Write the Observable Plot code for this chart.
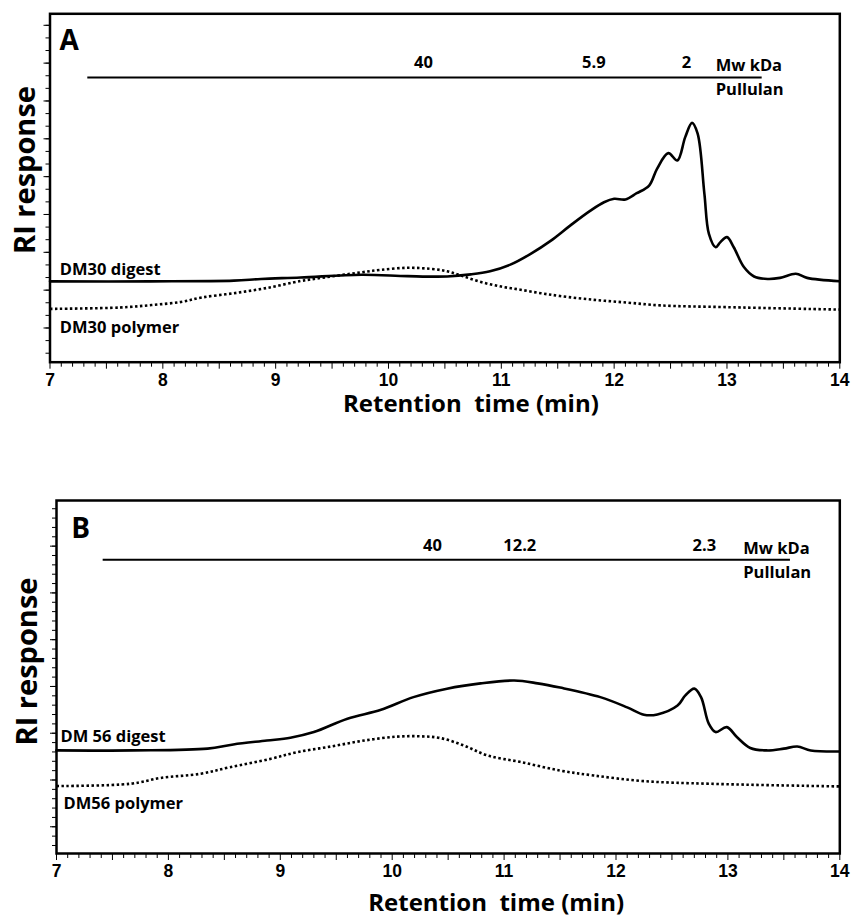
<!DOCTYPE html>
<html><head><meta charset="utf-8">
<script src="https://cdn.jsdelivr.net/npm/d3@7"></script>
<script src="https://cdn.jsdelivr.net/npm/@observablehq/plot@0.6"></script>
<style>
body{margin:0;background:#fff;}
#chart svg{display:block;}
</style></head><body><div id="chart"></div>
<script>
// Retention time (min), RI response (arbitrary units, 0 = bottom of frame, 100 = top)
const digestA = [[7.00,23.2],[7.89,23.2],[8.63,23.4],[8.87,23.9],[9.22,24.3],[9.76,25.1],[10.17,24.7],[10.52,24.6],[10.73,25.2],[10.90,26.1],[11.08,28.0],[11.26,31.1],[11.44,34.9],[11.61,39.2],[11.79,43.5],[11.91,45.9],[12.00,46.9],[12.10,46.7],[12.20,48.5],[12.31,50.7],[12.38,55.5],[12.48,60.0],[12.56,57.9],[12.63,64.6],[12.69,68.7],[12.74,65.6],[12.80,48.3],[12.84,36.8],[12.90,33.0],[12.94,34.4],[13.00,35.9],[13.06,33.0],[13.15,27.3],[13.24,24.6],[13.36,23.9],[13.47,24.2],[13.61,25.4],[13.71,24.2],[14.00,23.25]];
const polymerA = [[7.00,15.3],[7.62,15.7],[7.90,16.4],[8.16,17.3],[8.35,18.6],[8.63,19.8],[8.93,21.35],[9.22,23.3],[9.34,23.9],[9.76,25.8],[9.93,26.5],[10.17,27.1],[10.37,26.8],[10.52,26.1],[10.65,24.8],[10.82,23.0],[11.00,21.7],[11.17,20.8],[11.35,19.8],[11.52,19.0],[11.82,17.9],[12.12,17.1],[12.41,16.3],[13.00,15.8],[14.00,15.1]];
const digestB = [[7.00,29.2],[7.69,29.2],[8.35,29.7],[8.58,30.9],[8.88,32.0],[9.09,32.8],[9.30,34.4],[9.60,38.2],[9.90,40.7],[10.19,44.3],[10.49,46.7],[10.79,48.2],[11.09,49.0],[11.30,48.2],[11.50,47.0],[11.86,44.3],[12.10,41.4],[12.25,39.3],[12.37,39.4],[12.55,41.9],[12.62,44.8],[12.70,46.7],[12.76,44.3],[12.83,36.7],[12.89,34.4],[12.99,35.8],[13.08,33.0],[13.20,29.9],[13.35,29.2],[13.50,29.7],[13.62,30.3],[13.74,29.2],[14.00,28.9]];
const polymerB = [[7.00,19.1],[7.66,19.75],[7.93,21.4],[8.29,22.6],[8.55,24.45],[8.91,26.8],[9.15,28.7],[9.45,30.3],[9.75,32.0],[10.04,33.1],[10.25,33.2],[10.43,32.7],[10.64,30.6],[10.85,27.8],[11.15,25.9],[11.50,23.5],[11.80,22.1],[12.25,20.5],[12.84,19.75],[14.00,19.0]];

// Pullulan calibration markers (Mw kDa at retention time)
const pullulanA = [{label:"40", t:10.31},{label:"5.9", t:11.82},{label:"2", t:12.64}];
const pullulanB = [{label:"40", t:10.36},{label:"12.2", t:11.14},{label:"2.3", t:12.79}];
const pullulanSpanA = [7.335, 13.312];
const pullulanSpanB = [7.417, 13.559];

const xTickValues = [7,8,9,10,11,12,13,14];
const xTickLabels = ["7","8","9","10","11","12","13","14"];
const seriesLabelsA = ["DM30 digest","DM30 polymer"];
const seriesLabelsB = ["DM 56 digest","DM56 polymer"];
const yTitle = "RI response";
const xTitle = "Retention\u00a0 time (min)";
const mwLabel = "Mw kDa";
const stdLabel = "Pullulan";

const xMinor = d3.range(70,141).filter(d => d % 5 !== 0).map(d => d/10);
const xHalf = d3.range(7.5,14,1);
const num = "'Liberation Sans Narrow','Arial Narrow','Liberation Sans',Arial,sans-serif";
const toObj = a => a.map(([t,r]) => ({t,r}));

function panel(c) {
  const yMinor = d3.range(c.yCount).map(k => c.y0 + c.yStep*k);
  const yMajor = yMinor.filter((d,k) => k % c.yEvery === c.yOff);
  return Plot.plot({
    width: 854, height: c.height,
    marginTop: c.mt, marginBottom: c.mb, marginLeft: c.ml, marginRight: 14.7,
    x: {domain: [7,14]}, y: {domain: [0,100]},
    style: {fontFamily: "'Open Sans',sans-serif", color: "black", background: "white"},
    marks: [
      Plot.axisY({ticks: yMinor, tickSize: 4, tickFormat: () => "", label: null}),
      Plot.axisY({ticks: yMajor, tickSize: 6, tickFormat: () => "", label: null}),
      Plot.axisX({ticks: xMinor, tickSize: 5, tickFormat: () => "", label: null}),
      Plot.axisX({ticks: xHalf, tickSize: 7, tickFormat: () => "", label: null}),
      Plot.axisX({ticks: xTickValues, tickSize: 7, tickPadding: 4, tickFormat: (d) => xTickLabels[xTickValues.indexOf(d)], label: null, fontSize: 17.5, fontWeight: "bold", fontFamily: num}),
      Plot.ruleY([c.pullY], {x1: c.span[0], x2: c.span[1], strokeWidth: 2}),
      Plot.text(c.markers, {x: "t", y: c.markY, text: "label", textAnchor: "middle", lineAnchor: "bottom", fontSize: 16.5, fontWeight: "bold"}),
      Plot.text([mwLabel], {x: c.mwX, y: c.mwY, textAnchor: "start", lineAnchor: "bottom", fontSize: 16.5, fontWeight: "bold"}),
      Plot.text([stdLabel], {x: c.mwX, y: c.pulY, textAnchor: "start", lineAnchor: "bottom", fontSize: 16.5, fontWeight: "bold"}),
      Plot.line(toObj(c.polymer), {x: "t", y: "r", curve: "catmull-rom", strokeWidth: 2.6, strokeDasharray: "2.5,2.5", strokeLinecap: "butt"}),
      Plot.line(toObj(c.digest), {x: "t", y: "r", curve: "catmull-rom", strokeWidth: 2.6}),
      Plot.text([c.labels[0]], {x: c.l1[0], y: c.l1[1], textAnchor: "start", lineAnchor: "bottom", fontSize: 16.5, fontWeight: "bold"}),
      Plot.text([c.labels[1]], {x: c.l2[0], y: c.l2[1], textAnchor: "start", lineAnchor: "bottom", fontSize: 16.5, fontWeight: "bold"}),
      Plot.text([c.letter], {x: c.lt[0], y: c.lt[1], textAnchor: "start", lineAnchor: "bottom", fontSize: 28, fontWeight: "bold"}),
      Plot.text([yTitle], {frameAnchor: "left", rotate: -90, dx: c.yt[0], dy: c.yt[1], textAnchor: "middle", lineAnchor: "bottom", fontSize: 29, fontWeight: "bold"}),
      Plot.text([xTitle], {frameAnchor: "bottom", dx: c.xt[0], dy: c.xt[1], textAnchor: "middle", lineAnchor: "bottom", fontSize: 24, fontWeight: "bold"}),
      Plot.frame({stroke: "black", strokeWidth: 2.5})
    ]
  });
}

const el = document.getElementById("chart");
el.append(panel({
  height: 430, mt: 13.3, mb: 68.3, ml: 49.5,
  digest: digestA, polymer: polymerA, markers: pullulanA, span: pullulanSpanA,
  pullY: 81.7, markY: 84.4, mwX: 12.90, mwY: 83.7, pulY: 76.75,
  labels: seriesLabelsA, l1: [7.087, 24.97], l2: [7.087, 8.5], letter: "A", lt: [7.084, 89.5],
  yt: [-15, -18], xt: [26, 50],
  y0: 2.58, yStep: 3.62, yCount: 27, yEvery: 3, yOff: 2
}));
el.append(panel({
  height: 488, mt: 70, mb: 65, ml: 56,
  digest: digestB, polymer: polymerB, markers: pullulanB, span: pullulanSpanB,
  pullY: 83.2, markY: 85.8, mwX: 13.137, mwY: 84.9, pulY: 78.1,
  labels: seriesLabelsB, l1: [7.036, 31.53], l2: [7.063, 12.6], letter: "B", lt: [7.131, 89.5],
  yt: [-20, -15.5], xt: [48, 57],
  y0: 2.27, yStep: 2.65, yCount: 37, yEvery: 5, yOff: 2
}));
</script></body></html>
